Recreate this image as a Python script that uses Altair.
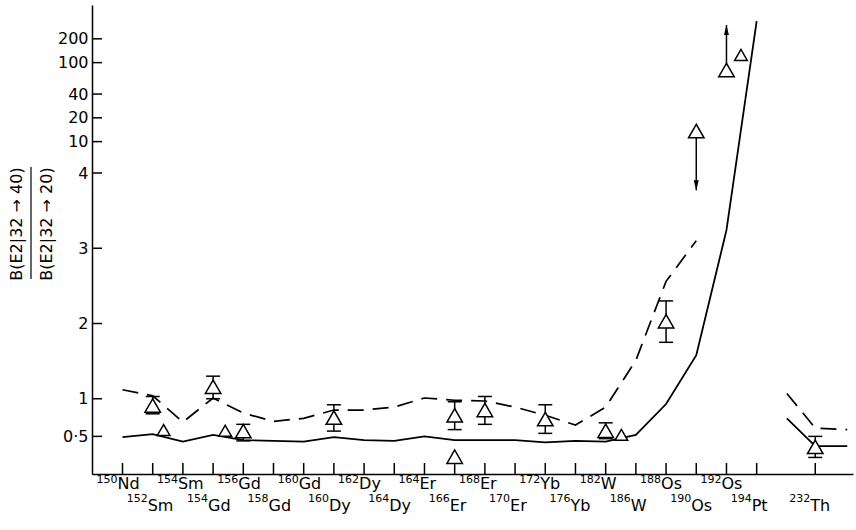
import numpy as np
import pandas as pd
import altair as alt

FONT = "DejaVu Sans"

# ---- x axis: nuclide positions and labels ----
tick_pos = list(range(22)) + [22.94]
mass_numbers = ["150", "152", "154", "154", "156", "158", "160", "160", "162", "164", "164",
                "166", "168", "170", "172", "176", "182", "186", "188", "190", "192", "194", "232"]
elements = ["Nd", "Sm", "Sm", "Gd", "Gd", "Gd", "Gd", "Dy", "Dy", "Dy", "Er",
            "Er", "Er", "Er", "Yb", "Yb", "W", "W", "Os", "Os", "Os", "Pt", "Th"]

# ---- model curves ----
solid_k = list(range(22))
solid_v = [0.49, 0.53, 0.43, 0.52, 0.45, 0.44, 0.43, 0.49, 0.45, 0.44, 0.50,
           0.45, 0.45, 0.45, 0.42, 0.44, 0.43, 0.52, 0.93, 1.58, 3.24, 336]
dashed_k = list(range(20))
dashed_v = [1.12, 1.04, 0.69, 1.01, 0.81, 0.70, 0.74, 0.85, 0.85, 0.89,
            1.01, 0.98, 0.97, 0.89, 0.78, 0.65, 0.89, 1.51, 2.56, 3.10]
th_k = [22.0, 22.94, 24.0]
th_solid_v = [0.74, 0.37, 0.37]
th_dashed_v = [1.07, 0.61, 0.59]

# ---- measured ratios with error bars ----
err_k = [1, 3, 4, 7, 11, 12, 14, 16, 18, 22.94]
err_v = [0.91, 1.16, 0.57, 0.75, 0.78, 0.85, 0.73, 0.575, 2.03, 0.36]
err_lo = [0.80, 1.00, 0.44, 0.57, 0.59, 0.66, 0.54, 0.47, 1.75, 0.22]
err_hi = [1.03, 1.30, 0.66, 0.92, 0.96, 1.03, 0.92, 0.68, 2.30, 0.50]

# measured ratio without error bar
single_k = [11]
single_v = [0.23]

# limits: arrow from the measured value towards the bound
lim_k = [19, 20]
lim_v = [13.6, 80.5]
lim_to = [3.77, 299]

# second data set (smaller markers)
small_k = [1.36, 3.40, 16.52, 20.48]
small_v = [0.585, 0.575, 0.52, 125]

y_ticks = [0.5, 1, 2, 3, 4, 10, 20, 40, 100, 200]

# ---- geometry ----
W, H = 761, 469
LIN_PX = 75.25   # pixels per unit below 4 (linear part)
LOG_PX = 79.0    # pixels per decade above 4 (logarithmic part)
y4 = H - 4 * LIN_PX
ymax = 4 * 10 ** (y4 / LOG_PX)
log_pts = np.geomspace(4, ymax, 40)
y_domain = [0.0] + [float(v) for v in log_pts]
y_range = [float(H)] + [float(y4 - LOG_PX * np.log10(v / 4)) for v in log_pts]
y_range[-1] = 0.0

yscale = alt.Scale(domain=y_domain, range=y_range, nice=False, zero=False)
yaxis = alt.Axis(values=y_ticks,
                 labelExpr="datum.value == 0.5 ? '0\u00b75' : format(datum.value, 'd')",
                 ticks=False, tickSize=0, grid=False, title=None,
                 labelFont=FONT, labelFontSize=16, labelColor="black", labelPadding=4,
                 labelFlush=False, labelOverlap=False, labelBound=False,
                 domainColor="black", domainWidth=1.5)
xscale = alt.Scale(domain=[-1.01, 24.19], nice=False, zero=False)
xaxis = alt.Axis(labels=False, ticks=False, grid=False, title=None,
                 domainColor="black", domainWidth=1.5)


def X():
    return alt.X("k:Q", scale=xscale, axis=xaxis)


def Y(field="v"):
    return alt.Y(f"{field}:Q", scale=yscale, axis=yaxis)


# ---- tables ----
df_yt = pd.DataFrame({"v": y_ticks})
df_xt = pd.DataFrame({"k": tick_pos})
df_solid = pd.DataFrame({
    "k": solid_k + th_k,
    "v": solid_v + th_solid_v,
    "seg": ["main"] * len(solid_k) + ["th"] * len(th_k),
})
df_dash = pd.DataFrame({
    "k": dashed_k + th_k,
    "v": dashed_v + th_dashed_v,
    "seg": ["main"] * len(dashed_k) + ["th"] * len(th_k),
})
df_err = pd.DataFrame({"k": err_k, "v": err_v, "lo": err_lo, "hi": err_hi})
df_caps = pd.DataFrame({"k": err_k + err_k, "v": err_lo + err_hi})
df_big = pd.DataFrame({"k": err_k + single_k + lim_k, "v": err_v + single_v + lim_v})
df_small = pd.DataFrame({"k": small_k, "v": small_v})
df_lim = pd.DataFrame({
    "k": lim_k, "v": lim_v, "to": lim_to,
    "shape": ["M0,0 L-0.3,-1.2 L0.3,-1.2 Z" if t < v else "M0,0 L-0.3,1.2 L0.3,1.2 Z"
              for v, t in zip(lim_v, lim_to)],
})
row = [i % 2 for i in range(22)] + [1]
df_lab = pd.DataFrame({"k": tick_pos, "mass": mass_numbers, "el": elements, "row": row})
df_up = df_lab[df_lab["row"] == 0]
df_lo = df_lab[df_lab["row"] == 1]

# ---- layers ----
y_tick_marks = alt.Chart(df_yt).mark_rule(color="black", strokeWidth=1.5).encode(
    y=Y(), x=alt.value(0), x2=alt.value(10))
x_tick_marks = alt.Chart(df_xt).mark_rule(color="black", strokeWidth=1.5).encode(
    x=X(), y=alt.value(H - 11), y2=alt.value(H))

solid = alt.Chart(df_solid).mark_line(color="black", strokeWidth=1.8).encode(
    x=X(), y=Y(), detail="seg:N")
dashed = alt.Chart(df_dash).mark_line(color="black", strokeWidth=1.7,
                                      strokeDash=[16, 9]).encode(
    x=X(), y=Y(), detail="seg:N")

err_bars = alt.Chart(df_err).mark_rule(color="black", strokeWidth=1.5).encode(
    x=X(), y=Y("lo"), y2="hi:Q")
err_caps = alt.Chart(df_caps).mark_tick(orient="horizontal", size=14, thickness=1.5,
                                        color="black", opacity=1).encode(x=X(), y=Y())

lim_lines = alt.Chart(df_lim).mark_rule(color="black", strokeWidth=1.5).encode(
    x=X(), y=Y("v"), y2="to:Q")
lim_heads = alt.Chart(df_lim).mark_point(filled=True, color="black", size=280,
                                         opacity=1, strokeWidth=0).encode(
    x=X(), y=Y("to"), shape=alt.Shape("shape:N", scale=None))

big_pts = alt.Chart(df_big).mark_point(shape="triangle-up", size=240, filled=True,
                                       fill="white", stroke="black", strokeWidth=1.5,
                                       opacity=1).encode(x=X(), y=Y())
small_pts = alt.Chart(df_small).mark_point(shape="triangle-up", size=160, filled=True,
                                           fill="white", stroke="black", strokeWidth=1.5,
                                           opacity=1).encode(x=X(), y=Y())

# two-row nuclide labels with superscript mass numbers
def label_layer(df, y_el, y_mass):
    el = alt.Chart(df).mark_text(font=FONT, fontSize=16, align="left", baseline="alphabetic",
                                 dx=-5, color="black").encode(
        x=X(), y=alt.value(y_el), text="el:N")
    ms = alt.Chart(df).mark_text(font=FONT, fontSize=11, align="right", baseline="alphabetic",
                                 dx=-5, color="black").encode(
        x=X(), y=alt.value(y_mass), text="mass:N")
    return el + ms


labels_up = label_layer(df_up, 484, 478)
labels_lo = label_layer(df_lo, 506, 497)

# y-axis title drawn as a fraction
df_title = pd.DataFrame({"num": ["B(E2|32 \u2192 40)"], "den": ["B(E2|32 \u2192 20)"]})
num = alt.Chart(df_title).mark_text(font=FONT, fontSize=16, angle=270, align="center",
                                    baseline="middle", color="black").encode(
    text="num:N", x=alt.value(-75), y=alt.value(219))
den = alt.Chart(df_title).mark_text(font=FONT, fontSize=16, angle=270, align="center",
                                    baseline="middle", color="black").encode(
    text="den:N", x=alt.value(-45), y=alt.value(219))
bar = alt.Chart(df_title).mark_rule(color="black", strokeWidth=1.2).encode(
    x=alt.value(-61), y=alt.value(162), y2=alt.value(274))

chart = alt.layer(
    y_tick_marks, x_tick_marks, solid, dashed, err_bars, err_caps,
    lim_lines, lim_heads, big_pts, small_pts,
    labels_up, labels_lo, num, den, bar,
).properties(
    width=W, height=H,
    padding={"left": 92, "top": 5, "right": 3, "bottom": 56},
    autosize=alt.AutoSizeParams(type="none"),
    background="white",
).configure_view(strokeWidth=0)

chart.save("out.html", embed_options={"renderer": "svg", "actions": False})
